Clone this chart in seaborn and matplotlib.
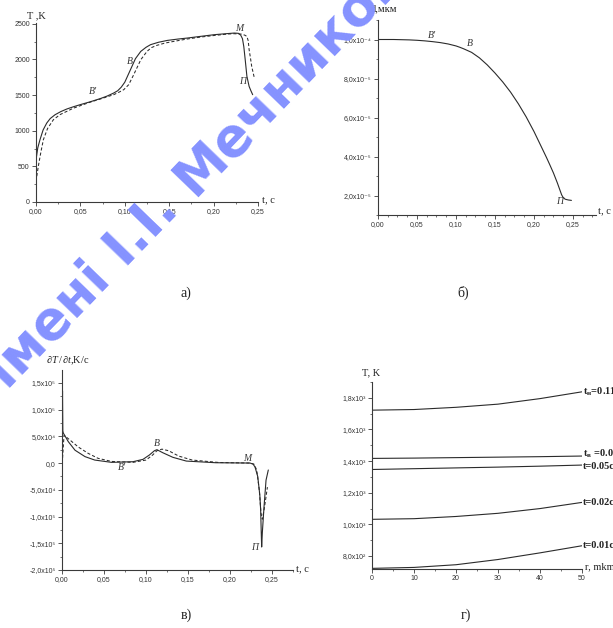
import matplotlib
matplotlib.use("Agg")
import matplotlib.pyplot as plt
import seaborn as sns
import numpy as np
import pandas as pd
from matplotlib.ticker import FixedLocator, FixedFormatter, MultipleLocator

sns.set_theme(style="white")
plt.rcParams["font.family"] = ["Liberation Serif", "DejaVu Serif"]
plt.rcParams["mathtext.fontset"] = "custom"
plt.rcParams["mathtext.rm"] = "Liberation Serif"
plt.rcParams["mathtext.it"] = "Liberation Serif:italic"
plt.rcParams["mathtext.bf"] = "Liberation Serif:bold"

# ---------------- (а) temperature of the particle, T(t) ----------------
t_a_solid = [0.000, 0.002, 0.0045, 0.008, 0.0121, 0.016, 0.0215, 0.028, 0.0347, 0.042,
             0.0498, 0.061, 0.0724, 0.080, 0.0875, 0.092, 0.096, 0.100, 0.104, 0.108,
             0.112, 0.118, 0.124, 0.129, 0.138, 0.148, 0.160, 0.1704, 0.185, 0.2006,
             0.212, 0.2233, 0.228, 0.2305, 0.2325, 0.2340, 0.2356, 0.2375, 0.240, 0.242, 0.244]
T_a_solid = [590, 760, 874, 1010, 1107, 1170, 1224, 1268, 1304, 1335,
             1365, 1405, 1450, 1485, 1528, 1560, 1610, 1680, 1790, 1900,
             2010, 2112, 2170, 2206, 2240, 2266, 2285, 2299, 2322, 2346,
             2358, 2369, 2365, 2340, 2290, 2180, 1995, 1762, 1621, 1560, 1505]
t_a_dash = [0.000, 0.0026, 0.0055, 0.0083, 0.013, 0.0196, 0.027, 0.0347, 0.042, 0.0498,
            0.061, 0.0724, 0.080, 0.0875, 0.0935, 0.0988, 0.1044, 0.110, 0.114, 0.118,
            0.125, 0.130, 0.136, 0.145, 0.155, 0.170, 0.1855, 0.2007, 0.2157, 0.2230,
            0.2308, 0.2350, 0.2375, 0.2390, 0.240, 0.2415, 0.2429, 0.2459]
T_a_dash = [290, 500, 700, 874, 1030, 1154, 1225, 1271, 1315, 1350,
            1400, 1444, 1475, 1505, 1540, 1575, 1645, 1785, 1890, 1995,
            2112, 2165, 2196, 2228, 2252, 2285, 2313, 2335, 2355, 2360,
            2355, 2340, 2322, 2260, 2136, 2020, 1902, 1738]
a_xticks = [0.00, 0.05, 0.10, 0.15, 0.20, 0.25]
a_xlabels = ["0,00", "0,05", "0,10", "0,15", "0,20", "0,25"]
a_yticks = [0, 500, 1000, 1500, 2000, 2500]
a_ylabels = ["0", "500", "1000", "1500", "2000", "2500"]

# ---------------- (б) particle diameter, d(t) ----------------
t_b = [0.00, 0.02, 0.04, 0.05, 0.06, 0.07, 0.08, 0.09, 0.10, 0.105, 0.11, 0.115,
       0.12, 0.13, 0.14, 0.15, 0.16, 0.17, 0.18, 0.19, 0.20, 0.21, 0.216, 0.22,
       0.225, 0.23, 0.2335, 0.2355, 0.2375, 0.240, 0.244, 0.248]
d_b = [1.000e-4, 1.000e-4, 0.998e-4, 0.996e-4, 0.993e-4, 0.989e-4, 0.984e-4, 0.977e-4,
       0.967e-4, 0.960e-4, 0.952e-4, 0.943e-4, 0.934e-4, 0.906e-4, 0.870e-4, 0.828e-4,
       0.782e-4, 0.730e-4, 0.670e-4, 0.603e-4, 0.528e-4, 0.445e-4, 0.395e-4, 0.360e-4,
       0.315e-4, 0.264e-4, 0.225e-4, 0.203e-4, 0.189e-4, 0.181e-4, 0.177e-4, 0.175e-4]
b_xticks = [0.00, 0.05, 0.10, 0.15, 0.20, 0.25]
b_xlabels = ["0,00", "0,05", "0,10", "0,15", "0,20", "0,25"]
b_yticks = [2e-5, 4e-5, 6e-5, 8e-5, 1e-4]
b_ylabels = ["2,0x10⁻⁵", "4,0x10⁻⁵", "6,0x10⁻⁵", "8,0x10⁻⁵", "1,0x10⁻⁴"]

# ---------------- (в) heating rate, dT/dt ----------------
t_c_solid = [0.0002, 0.0006, 0.0010, 0.0016, 0.0075, 0.0155, 0.0274, 0.039, 0.059,
             0.0845, 0.0964, 0.104, 0.110, 0.113, 0.120, 0.132, 0.148, 0.183, 0.2238,
             0.2275, 0.2298, 0.233, 0.2355, 0.2365, 0.2372, 0.2377, 0.2385, 0.2405,
             0.2429, 0.2456]
v_c_solid = [6.0e4, 1.35e5, 6.0e4, 5.6e4, 4.0e4, 2.4e4, 1.2e4, 5.6e3, 1.3e3,
             2.5e3, 6.9e3, 1.5e4, 2.3e4, 2.5e4, 1.93e4, 1.07e4, 3.7e3, 6.0e2, 0,
             -2.0e3, -7.5e3, -2.5e4, -6.0e4, -8.8e4, -1.3e5, -1.57e5, -1.3e5, -8.2e4,
             -3.2e4, -1.3e4]
t_c_dash = [0.0003, 0.0024, 0.0095, 0.0194, 0.0313, 0.043, 0.059, 0.0845, 0.100,
            0.1079, 0.113, 0.119, 0.127, 0.139, 0.155, 0.187, 0.2238, 0.2285, 0.2318,
            0.2349, 0.2369, 0.2385, 0.2405, 0.2429, 0.2445]
v_c_dash = [0, 5.2e4, 4.3e4, 3.0e4, 1.8e4, 8.8e3, 3.0e3, 1.3e3, 5.6e3,
            1.5e4, 2.3e4, 2.6e4, 2.3e4, 1.3e4, 5.6e3, 1.0e3, 0, -2.0e3, -1.3e4,
            -5.1e4, -9.4e4, -1.05e5, -8.8e4, -6.3e4, -4.5e4]
c_xticks = [0.00, 0.05, 0.10, 0.15, 0.20, 0.25]
c_xlabels = ["0,00", "0,05", "0,10", "0,15", "0,20", "0,25"]
c_yticks = [-2e5, -1.5e5, -1e5, -5e4, 0, 5e4, 1e5, 1.5e5]
c_ylabels = ["-2,0x10⁵", "-1,5x10⁵", "-1,0x10⁵", "-5,0x10⁴", "0,0",
             "5,0x10⁴", "1,0x10⁵", "1,5x10⁵"]

# ---------------- (г) radial temperature profiles, T(r) ----------------
r_d = [0, 10, 20, 30, 40, 50]
T_d_001 = [722, 728, 745, 778, 820, 865]
T_d_002 = [1032, 1036, 1050, 1070, 1100, 1139]
T_d_005 = [1347, 1352, 1357, 1362, 1368, 1375]
T_d_tv = [1417, 1419, 1422, 1425, 1428, 1432]
T_d_tn = [1722, 1726, 1740, 1760, 1795, 1838]
d_curve_labels = ["t=0.01c", "t=0.02c", "t=0.05c", r"t$_\mathbf{в}$ =0.0", r"t$_\mathbf{н}$=0.11"]
d_label_shift = [0, 0, -8, 14, 0]
d_xticks = [0, 10, 20, 30, 40, 50]
d_xlabels = ["0", "10", "20", "30", "40", "50"]
d_yticks = [800, 1000, 1200, 1400, 1600, 1800]
d_ylabels = ["8,0x10²", "1,0x10³", "1,2x10³", "1,4x10³", "1,6x10³", "1,8x10³"]

W, H = 613, 628
fig = plt.figure(figsize=(W / 100, H / 100), dpi=100)
fig.patch.set_facecolor("white")

INK = "#3a3a3a"
TICK_FONT = ["Liberation Sans", "DejaVu Sans"]


def add_ax(left, right, bottom, top):
    return fig.add_axes([left / W, 1 - bottom / H, (right - left) / W, (bottom - top) / H])


def style(ax, xt, xl, yt, yl, xminor, yminor):
    ax.set_facecolor("none")
    for s in ("top", "right"):
        ax.spines[s].set_visible(False)
    for s in ("left", "bottom"):
        ax.spines[s].set_color(INK)
        ax.spines[s].set_linewidth(0.8)
    ax.xaxis.set_major_locator(FixedLocator(xt))
    ax.xaxis.set_major_formatter(FixedFormatter(xl))
    ax.yaxis.set_major_locator(FixedLocator(yt))
    ax.yaxis.set_major_formatter(FixedFormatter(yl))
    ax.xaxis.set_minor_locator(MultipleLocator(xminor))
    ax.yaxis.set_minor_locator(MultipleLocator(yminor))
    ax.tick_params(which="major", direction="out", length=3, width=0.6, color=INK,
                   labelsize=5, labelcolor="#333333", pad=1.5,
                   bottom=True, left=True)
    ax.tick_params(which="minor", direction="out", length=1.6, width=0.5, color=INK,
                   bottom=True, left=True)
    for lab in ax.get_xticklabels() + ax.get_yticklabels():
        lab.set_family(TICK_FONT)
    ax.set_xlabel("")
    ax.set_ylabel("")
    ax.grid(False)


def curve(ax, x, y, dashed=False):
    df = pd.DataFrame({"x": x, "y": y})
    sns.lineplot(data=df, x="x", y="y", ax=ax, sort=False, estimator=None,
                 color="#2b2b2b", linewidth=0.8 if not dashed else 0.75,
                 linestyle=(0, (3, 2)) if dashed else "-")


lab_kw = dict(fontsize=7.5, color="#222222")
mark_kw = dict(fontsize=7, color="#333333", style="italic")

# ---- (а)
ax1 = add_ax(36, 258, 202, 23)
curve(ax1, t_a_solid, T_a_solid)
curve(ax1, t_a_dash, T_a_dash, dashed=True)
ax1.set_xlim(0, 0.25)
ax1.set_ylim(0, 2510)
style(ax1, a_xticks, a_xlabels, a_yticks, a_ylabels, 0.025, 250)
fig.text(27 / W, 1 - 16 / H, "T ,K", va="center", ha="left", **lab_kw)
fig.text(262 / W, 1 - 200 / H, "t, c", va="center", ha="left", **lab_kw)
ax1.text(0.0595, 1520, "B′", **mark_kw)
ax1.text(0.1025, 1930, "B", **mark_kw)
ax1.text(0.2245, 2400, "M", **mark_kw)
ax1.text(0.2285, 1650, "П", **mark_kw)

# ---- (б)
ax2 = add_ax(378, 596, 215, 20)
curve(ax2, t_b, d_b)
ax2.set_xlim(0, 0.2795)
ax2.set_ylim(1.0e-5, 1.1e-4)
style(ax2, b_xticks, b_xlabels, b_yticks, b_ylabels, 0.0125, 1e-5)
fig.text(371 / W, 1 - 9 / H, "d,мкм", va="center", ha="left", **lab_kw)
fig.text(598 / W, 1 - 211 / H, "t, c", va="center", ha="left", **lab_kw)
ax2.text(0.064, 1.01e-4, "B′", **mark_kw)
ax2.text(0.114, 0.965e-4, "B", **mark_kw)
ax2.text(0.228, 1.55e-5, "П", **mark_kw)

# ---- (в)
ax3 = add_ax(62, 293, 570, 370)
curve(ax3, t_c_solid, v_c_solid)
curve(ax3, t_c_dash, v_c_dash, dashed=True)
ax3.set_xlim(0, 0.275)
ax3.set_ylim(-2.0e5, 1.74e5)
style(ax3, c_xticks, c_xlabels, c_yticks, c_ylabels, 0.025, 2.5e4)
fig.text(46 / W, 1 - 361 / H, r"$\partial T\,/\,\partial t$,K/c", va="center", ha="left", **lab_kw)
fig.text(296 / W, 1 - 569 / H, "t, c", va="center", ha="left", **lab_kw)
ax3.text(0.066, -1.3e4, "B′", **mark_kw)
ax3.text(0.110, 3.2e4, "B", **mark_kw)
ax3.text(0.2155, 4.0e3, "M", **mark_kw)
ax3.text(0.2245, -1.62e5, "П", **mark_kw)

# ---- (г)
ax4 = add_ax(372, 582, 569, 382)
profiles = (T_d_001, T_d_002, T_d_005, T_d_tv, T_d_tn)
for series in profiles:
    curve(ax4, r_d, series)
ax4.set_xlim(0, 50)
ax4.set_ylim(718, 1900)
style(ax4, d_xticks, d_xlabels, d_yticks, d_ylabels, 5, 100)
for series, text, dy in zip(profiles, d_curve_labels, d_label_shift):
    ax4.text(50.2, series[-1] + dy, text, va="center", ha="left", fontsize=7.5,
             fontweight="bold", color="#222222", clip_on=False)
fig.text(362 / W, 1 - 373 / H, "T, K", va="center", ha="left", **lab_kw)
fig.text(585 / W, 1 - 567 / H, "r, mkm", va="center", ha="left", **lab_kw)

# ---- panel captions
cap_kw = dict(fontsize=10, color="#222222", ha="center", va="center")
fig.text(186 / W, 1 - 293 / H, "а)", **cap_kw)
fig.text(463 / W, 1 - 293 / H, "б)", **cap_kw)
fig.text(186 / W, 1 - 615 / H, "в)", **cap_kw)
fig.text(466 / W, 1 - 615 / H, "г)", **cap_kw)

# ---- university watermark
wm_kw = dict(fontsize=38, fontweight="bold", color="#8592ff", family=["DejaVu Sans"],
             rotation=46, rotation_mode="anchor", va="baseline", zorder=10)
fig.text(194 / W, 1 - 198 / H, "Мечникова", ha="left", **wm_kw)
fig.text(180 / W, 1 - 212 / H, "імені І.І.", ha="right", **wm_kw)

fig.savefig("out.png", dpi=100, facecolor="white")
